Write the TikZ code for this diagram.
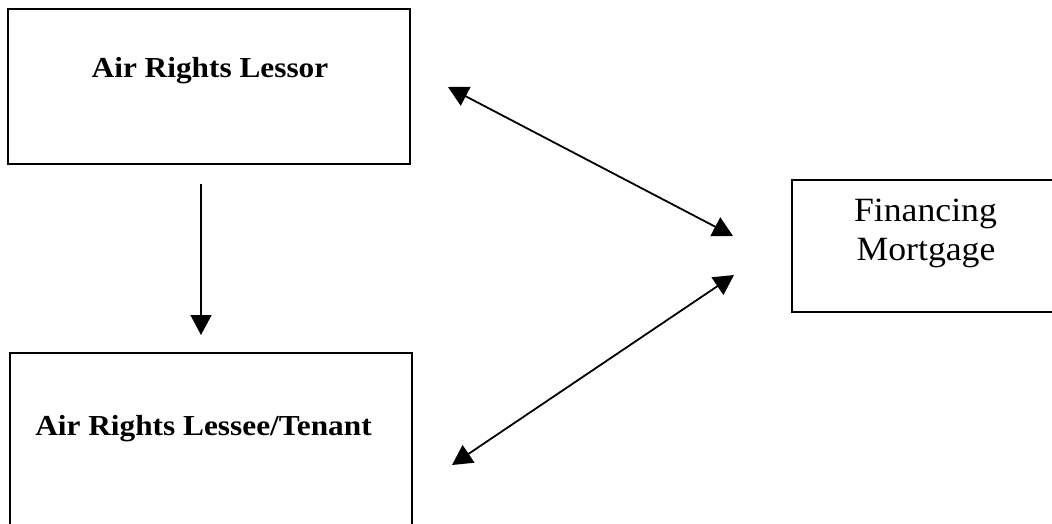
\documentclass[tikz,border=0pt]{standalone}
\usepackage{fontspec}
\setmainfont{Liberation Serif}
\usepackage{graphicx}
\usetikzlibrary{arrows.meta}
\tikzset{
  x=1pt, y=-1pt,
  boxnode/.style={draw=black, line width=1.3pt, rectangle, inner sep=0pt, anchor=center},
  boldlbl/.style={font=\fontsize{29}{34}\selectfont\bfseries, inner sep=0pt, anchor=base},
  plainlbl/.style={font=\fontsize{34}{39}\selectfont, inner sep=0pt, anchor=base},
  conn/.style={line width=1.8pt, -{Triangle[length=20pt,width=21pt]}},
  dconn/.style={line width=1.8pt, {Triangle[length=20pt,width=21pt]}-{Triangle[length=20pt,width=21pt]}},
}
\begin{document}
\begin{tikzpicture}
\useasboundingbox (0,0) rectangle (1052,523);
\node[boxnode, minimum width=402pt, minimum height=155pt] (lessor) at (209,86.5) {};
\node[boxnode, minimum width=402pt, minimum height=187pt] (lessee) at (211,446.5) {};
\node[boxnode, minimum width=278pt, minimum height=132pt] (mort) at (931,246) {};
\node[boldlbl] (t1) at (210,77) {\scalebox{1.08}[1]{Air Rights Lessor}};
\node[boldlbl] (t2) at (203.5,435) {\scalebox{1.08}[1]{Air Rights Lessee/Tenant}};
\node[plainlbl] (t3) at (925.5,221) {\scalebox{1.05}[1]{Financing}};
\node[plainlbl] (t4) at (926,260) {\scalebox{1.05}[1]{Mortgage}};
\coordinate (a1s) at (201,184);
\coordinate (a1e) at (201,335);
\coordinate (a2s) at (448,87);
\coordinate (a2e) at (733,236);
\coordinate (a3s) at (734,275);
\coordinate (a3e) at (452,465);
\draw[conn, line width=1.3pt] (a1s) -- (a1e);
\draw[dconn] (a2s) -- (a2e);
\draw[dconn] (a3s) -- (a3e);
\end{tikzpicture}
\end{document}
